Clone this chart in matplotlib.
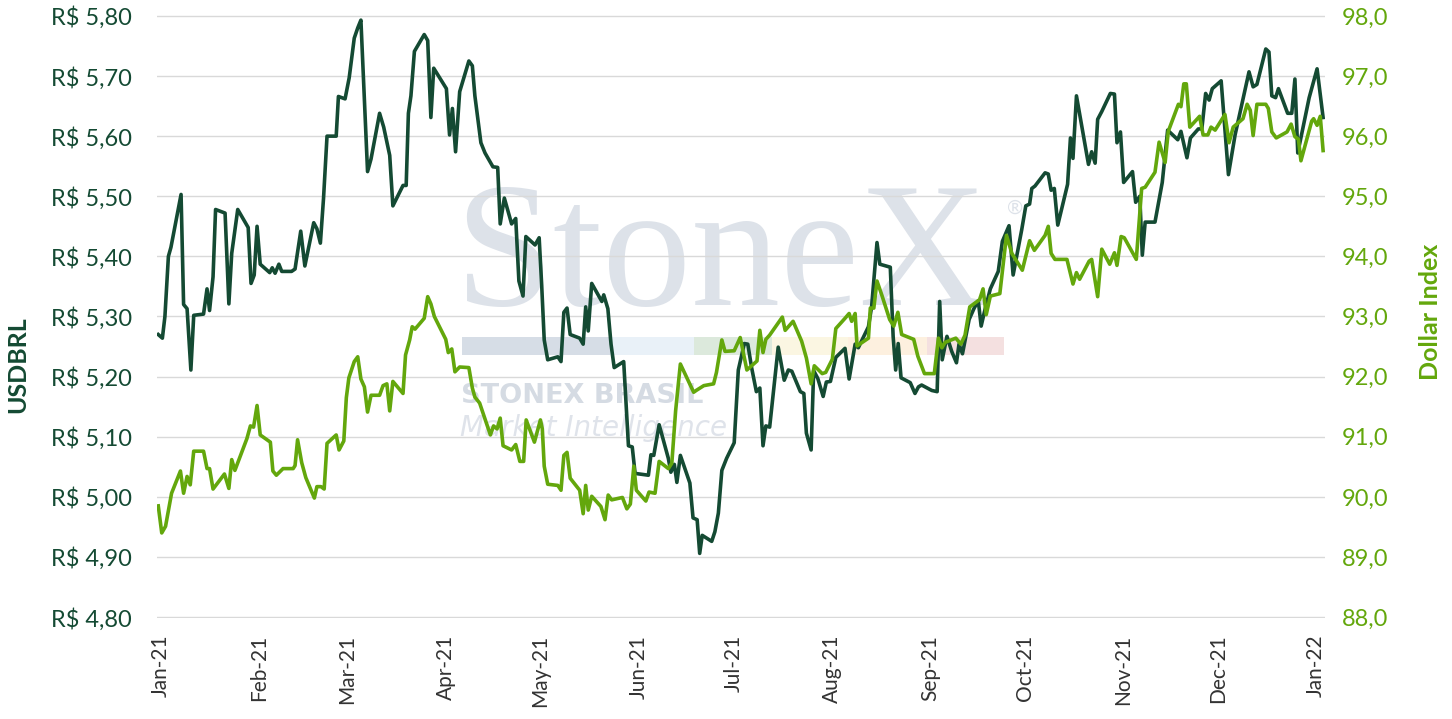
import matplotlib
matplotlib.use("Agg")
import matplotlib.pyplot as plt
import matplotlib.dates as mdates
import matplotlib.patches as patches
from matplotlib.ticker import FuncFormatter, MultipleLocator
import pandas as pd

# USDBRL (left axis) - days counted from 2021-01-01
usd_days = [-0.7, 0.6, 1.4, 2.5, 3.3, 6.5, 7.3, 8.4, 9.6, 10.5, 13.6, 14.7, 15.5, 16.6, 17.4,
            20.4, 21.6, 22.5, 24.4, 27.7, 28.6, 29.6, 30.5, 31.5, 34.5, 35.3, 36.2, 37.4, 38.3,
            41.4, 42.5, 44.3, 45.6, 48.4, 49.4, 50.5, 51.5, 52.6, 55.5, 56.2, 58.3, 59.6, 61.2,
            62.3, 63.3, 65.4, 66.5, 69.2, 70.5, 72.4, 73.4, 76.6, 77.6, 78.3, 79.1, 80.2, 83.3,
            84.4, 85.4, 86.3, 90.3, 91.3, 92.2, 93.2, 94.5, 97.4, 98.5, 99.3, 101.2, 102.5,
            105.0, 106.5, 107.3, 108.6, 110.9, 112.2, 113.2, 114.5, 115.4, 118.3, 119.6, 120.4,
            121.2, 122.3, 125.5, 126.5, 127.4, 128.4, 129.4, 132.4, 133.5, 134.3, 135.1, 136.2,
            137.9, 139.4, 140.0, 141.3, 142.3, 143.3, 146.3, 147.8, 149.0, 149.9, 154.1, 154.9,
            155.8, 157.5, 160.4, 161.2, 162.3, 163.1, 164.2, 167.2, 168.2, 169.5, 170.3, 171.1,
            174.1, 175.1, 176.2, 177.3, 178.8, 181.2, 182.5, 184.4, 185.5, 186.7, 188.2, 189.3,
            190.3, 191.2, 192.4, 195.1, 197.0, 198.3, 199.4, 202.1, 203.2, 204.0, 205.5, 206.3,
            207.6, 209.3, 210.3, 211.6, 213.3, 216.2, 217.5, 219.4, 220.4, 223.6, 224.6, 226.3,
            227.2, 230.5, 231.4, 232.2, 233.0, 233.9, 236.8, 238.3, 239.4, 240.4, 243.6, 245.3,
            246.1, 246.9, 248.4, 249.9, 251.4, 252.2, 253.3, 255.4, 257.0, 258.3, 259.2, 260.2,
            262.1, 264.6, 265.9, 268.0, 269.3, 272.0, 273.3, 274.5, 275.2, 276.2, 279.4, 280.4,
            281.3, 282.3, 283.4, 286.5, 287.4, 288.2, 289.3, 293.1, 294.1, 295.2, 296.0, 297.3,
            300.0, 301.3, 302.1, 303.2, 304.2, 307.0, 308.0, 309.3, 310.1, 311.0, 314.1, 316.4,
            318.1, 321.3, 322.3, 324.2, 325.3, 327.8, 328.9, 330.1, 331.2, 332.2, 335.0, 337.3,
            339.4, 343.8, 345.1, 346.3, 349.1, 350.1, 351.0, 352.2, 353.1, 356.0, 357.3, 358.3,
            359.2, 362.8, 365.3, 367.2]
usd_vals = [5.270, 5.264, 5.300, 5.400, 5.415, 5.503, 5.320, 5.313, 5.211, 5.302, 5.304, 5.346,
            5.310, 5.366, 5.478, 5.472, 5.321, 5.405, 5.478, 5.448, 5.355, 5.369, 5.450, 5.387,
            5.373, 5.381, 5.372, 5.387, 5.375, 5.375, 5.379, 5.442, 5.384, 5.456, 5.446, 5.422,
            5.497, 5.600, 5.600, 5.666, 5.662, 5.697, 5.763, 5.780, 5.793, 5.541, 5.562, 5.638,
            5.615, 5.568, 5.484, 5.518, 5.518, 5.638, 5.667, 5.741, 5.769, 5.759, 5.631, 5.713,
            5.679, 5.602, 5.646, 5.574, 5.674, 5.725, 5.717, 5.667, 5.589, 5.572, 5.549, 5.548,
            5.454, 5.497, 5.454, 5.463, 5.359, 5.334, 5.433, 5.419, 5.431, 5.352, 5.261, 5.228,
            5.233, 5.225, 5.307, 5.314, 5.270, 5.264, 5.254, 5.316, 5.276, 5.355, 5.339, 5.325,
            5.336, 5.313, 5.254, 5.215, 5.225, 5.085, 5.083, 5.039, 5.036, 5.070, 5.069, 5.120,
            5.064, 5.041, 5.054, 5.024, 5.069, 5.023, 4.965, 4.962, 4.906, 4.936, 4.926, 4.942,
            4.973, 5.044, 5.064, 5.090, 5.211, 5.255, 5.254, 5.215, 5.175, 5.181, 5.085, 5.118,
            5.116, 5.249, 5.194, 5.211, 5.209, 5.175, 5.172, 5.106, 5.078, 5.210, 5.197, 5.167,
            5.191, 5.192, 5.232, 5.247, 5.196, 5.254, 5.248, 5.283, 5.316, 5.423, 5.387, 5.382,
            5.267, 5.211, 5.255, 5.198, 5.190, 5.172, 5.183, 5.186, 5.177, 5.175, 5.325, 5.228,
            5.267, 5.242, 5.223, 5.254, 5.238, 5.295, 5.314, 5.326, 5.284, 5.307, 5.346, 5.375,
            5.425, 5.451, 5.369, 5.444, 5.484, 5.487, 5.513, 5.517, 5.539, 5.537, 5.510, 5.513,
            5.452, 5.520, 5.597, 5.563, 5.667, 5.553, 5.574, 5.555, 5.628, 5.641, 5.671, 5.670,
            5.589, 5.607, 5.523, 5.541, 5.490, 5.500, 5.402, 5.457, 5.457, 5.523, 5.610, 5.594,
            5.608, 5.564, 5.597, 5.612, 5.612, 5.671, 5.660, 5.679, 5.692, 5.536, 5.602, 5.707,
            5.682, 5.686, 5.745, 5.740, 5.667, 5.664, 5.679, 5.638, 5.638, 5.695, 5.572, 5.664,
            5.712, 5.631]

# Dollar Index (right axis)
dxy_days = [-0.7, 0.4, 1.6, 3.5, 6.3, 7.3, 8.4, 9.4, 10.5, 13.6, 14.7, 15.5, 16.6, 20.2, 21.6,
            22.5, 23.5, 27.3, 28.4, 29.4, 30.5, 31.5, 34.7, 35.5, 36.6, 38.7, 41.9, 42.5, 43.3,
            44.6, 45.9, 48.6, 49.4, 50.7, 51.7, 52.6, 55.5, 56.4, 57.9, 58.7, 59.5, 61.2, 62.3,
            63.3, 64.4, 65.4, 66.5, 69.2, 70.3, 71.5, 72.4, 73.4, 76.6, 77.4, 78.7, 79.5, 80.4,
            83.3, 84.4, 85.4, 86.5, 90.1, 90.9, 92.0, 93.0, 94.5, 97.4, 98.5, 99.3, 100.8, 104.2,
            105.2, 106.3, 107.3, 108.2, 110.9, 112.2, 113.5, 114.7, 115.5, 118.1, 120.0, 120.6,
            121.2, 122.3, 125.5, 126.5, 127.4, 128.4, 129.4, 132.4, 133.5, 134.3, 135.1, 136.2,
            139.1, 140.4, 141.4, 142.5, 145.9, 147.3, 148.4, 149.5, 150.3, 153.3, 154.3, 156.2,
            157.5, 160.4, 161.5, 162.7, 164.2, 168.4, 169.2, 171.6, 174.7, 175.6, 177.3, 178.3,
            181.2, 183.1, 185.2, 188.4, 189.3, 190.3, 191.2, 192.4, 196.4, 197.3, 199.8, 202.5,
            204.0, 205.5, 206.5, 209.0, 210.1, 212.2, 213.3, 216.2, 217.5, 218.3, 219.4, 220.0,
            223.6, 224.2, 225.3, 226.3, 227.8, 230.3, 231.6, 232.9, 234.1, 237.9, 239.2, 241.3,
            244.4, 245.7, 246.8, 247.8, 251.2, 252.8, 254.1, 255.6, 258.7, 259.8, 260.8, 262.1,
            265.1, 267.2, 268.9, 272.2, 274.5, 276.0, 279.4, 280.4, 281.3, 282.5, 286.3, 288.2,
            289.3, 290.3, 293.3, 294.1, 296.0, 297.3, 299.8, 301.3, 302.1, 303.4, 304.4, 308.2,
            309.9, 311.0, 314.1, 315.4, 317.3, 318.3, 321.5, 322.3, 323.2, 324.0, 325.1, 328.2,
            329.3, 330.8, 331.8, 333.1, 336.2, 337.5, 338.8, 341.9, 343.2, 344.2, 345.1, 346.3,
            349.1, 349.9, 351.0, 352.4, 355.8, 357.1, 358.3, 359.4, 360.2, 363.6, 364.2, 365.3,
            366.3, 367.2]
dxy_vals = [89.85, 89.40, 89.51, 90.06, 90.43, 90.06, 90.34, 90.20, 90.76, 90.76, 90.47, 90.47,
            90.13, 90.38, 90.14, 90.62, 90.44, 90.97, 91.18, 91.16, 91.52, 91.03, 90.91, 90.43,
            90.36, 90.47, 90.47, 90.52, 90.95, 90.57, 90.32, 89.98, 90.17, 90.17, 90.13, 90.89,
            91.03, 90.78, 90.93, 91.65, 91.98, 92.25, 92.33, 91.96, 91.83, 91.41, 91.69, 91.69,
            91.85, 91.88, 91.43, 91.92, 91.72, 92.36, 92.61, 92.83, 92.79, 92.97, 93.33, 93.21,
            93.00, 92.62, 92.40, 92.46, 92.08, 92.16, 92.15, 91.81, 91.66, 91.56, 91.03, 91.18,
            91.13, 91.31, 90.85, 90.78, 90.87, 90.59, 90.59, 91.28, 90.91, 91.28, 91.13, 90.51,
            90.21, 90.19, 90.11, 90.69, 90.74, 90.31, 90.11, 89.72, 90.19, 89.78, 90.01, 89.84,
            89.62, 90.03, 89.95, 89.99, 89.80, 89.88, 90.51, 90.11, 89.93, 90.08, 90.06, 90.59,
            90.47, 90.56, 91.43, 92.21, 91.74, 91.77, 91.85, 91.88, 92.07, 92.61, 92.42, 92.43,
            92.65, 92.11, 92.26, 92.77, 92.40, 92.62, 92.69, 92.99, 92.77, 92.92, 92.59, 92.31,
            91.88, 92.18, 92.05, 92.07, 92.29, 92.80, 92.97, 93.05, 92.92, 93.05, 92.51, 92.64,
            93.14, 93.14, 93.59, 93.36, 92.95, 92.84, 93.07, 92.70, 92.62, 92.34, 92.05, 92.05,
            92.64, 92.48, 92.57, 92.64, 92.54, 92.69, 93.16, 93.28, 93.46, 93.03, 93.34, 93.38,
            94.35, 94.05, 93.77, 94.26, 94.10, 94.35, 94.50, 94.05, 93.95, 93.95, 93.54, 93.73,
            93.62, 93.92, 93.95, 93.33, 94.12, 93.87, 94.06, 93.85, 94.33, 94.31, 93.95, 95.13,
            95.15, 95.40, 95.90, 95.56, 96.08, 96.53, 96.49, 96.87, 96.87, 96.15, 96.33, 96.02,
            96.02, 96.15, 96.10, 96.36, 95.89, 96.15, 96.29, 96.53, 96.43, 96.01, 96.53, 96.53,
            96.46, 96.07, 95.97, 96.07, 96.20, 95.99, 95.95, 95.59, 96.25, 96.29, 96.18, 96.33,
            95.76]

start = pd.Timestamp("2021-01-01")
usd_dates = start + pd.to_timedelta(usd_days, unit="D")
dxy_dates = start + pd.to_timedelta(dxy_days, unit="D")

dark = "#144a33"
light = "#63a70c"

plt.rcParams["font.family"] = ["Lato", "DejaVu Sans"]

fig = plt.figure(figsize=(14.52, 7.19), dpi=100)
ax = fig.add_axes([157 / 1452, 1 - 618 / 719, 1168 / 1452, 603 / 719])
ax2 = ax.twinx()

# watermark behind the lines
wm = "#dde2e9"
ax.text(0.2546, 0.519, "StoneX", transform=ax.transAxes, fontsize=128,
        family="Liberation Serif", color=wm, zorder=0, va="baseline")
ax.text(0.728, 0.67, "®", transform=ax.transAxes, fontsize=14, color=wm, zorder=0)
strip = [("#d6dde6", 462, 610), ("#e9f1f8", 610, 694), ("#dce9dc", 694, 772),
         ("#fbf6e2", 772, 848), ("#fdf0df", 848, 927), ("#f4e0e0", 927, 1004)]
for c, a, b in strip:
    ax.add_patch(patches.Rectangle(((a - 157) / 1168, (618 - 355) / 603), (b - a) / 1168,
                                   18 / 603, transform=ax.transAxes, color=c, zorder=0,
                                   lw=0))
ax.text((461 - 157) / 1168, (618 - 396) / 603, "STONEX BRASIL",
        transform=ax.transAxes, fontsize=19.5, weight="bold", color="#d5dbe3",
        va="center", zorder=0, family="DejaVu Sans")
ax.text((460 - 157) / 1168, (618 - 428) / 603, "Market Intelligence",
        transform=ax.transAxes, fontsize=20, style="italic", color="#dfe3ea",
        va="center", zorder=0, family="DejaVu Sans")

ax.plot(usd_dates, usd_vals, color=dark, lw=2.6, zorder=3, solid_joinstyle="round")
ax2.plot(dxy_dates, dxy_vals, color=light, lw=2.6, zorder=3, solid_joinstyle="round")

ax.set_xlim(start - pd.Timedelta(days=1.1), start + pd.Timedelta(days=367.8))
ax.set_ylim(4.7985, 5.8015)
ax2.set_ylim(87.985, 98.015)
ax.yaxis.set_major_locator(MultipleLocator(0.1))
ax2.yaxis.set_major_locator(MultipleLocator(1))
ax.yaxis.set_major_formatter(FuncFormatter(lambda v, p: "R$ " + f"{v:.2f}".replace(".", ",")))
ax2.yaxis.set_major_formatter(FuncFormatter(lambda v, p: f"{v:.1f}".replace(".", ",")))

ax.xaxis.set_major_locator(mdates.MonthLocator())
ax.xaxis.set_major_formatter(mdates.DateFormatter("%b-%y"))
ax.grid(axis="y", color="#d9d9d9", lw=1)
ax.set_axisbelow(True)

for a in (ax, ax2):
    for s in a.spines.values():
        s.set_visible(False)
    a.tick_params(length=0)

ax.tick_params(axis="x", labelrotation=90, labelsize=15, labelcolor="#333333", pad=12)
ax.tick_params(axis="y", labelsize=17, labelcolor=dark, pad=18)
ax2.tick_params(axis="y", labelsize=17, labelcolor=light, pad=12)

ax.set_ylabel("USDBRL", fontsize=18, weight="bold", color=dark)
ax.yaxis.set_label_coords(-0.1096, 0.42)
ax2.set_ylabel("Dollar Index", fontsize=18, weight="bold", color=light)
ax2.yaxis.set_label_coords(1.0803, 0.507)

fig.savefig("out.png", dpi=100)
